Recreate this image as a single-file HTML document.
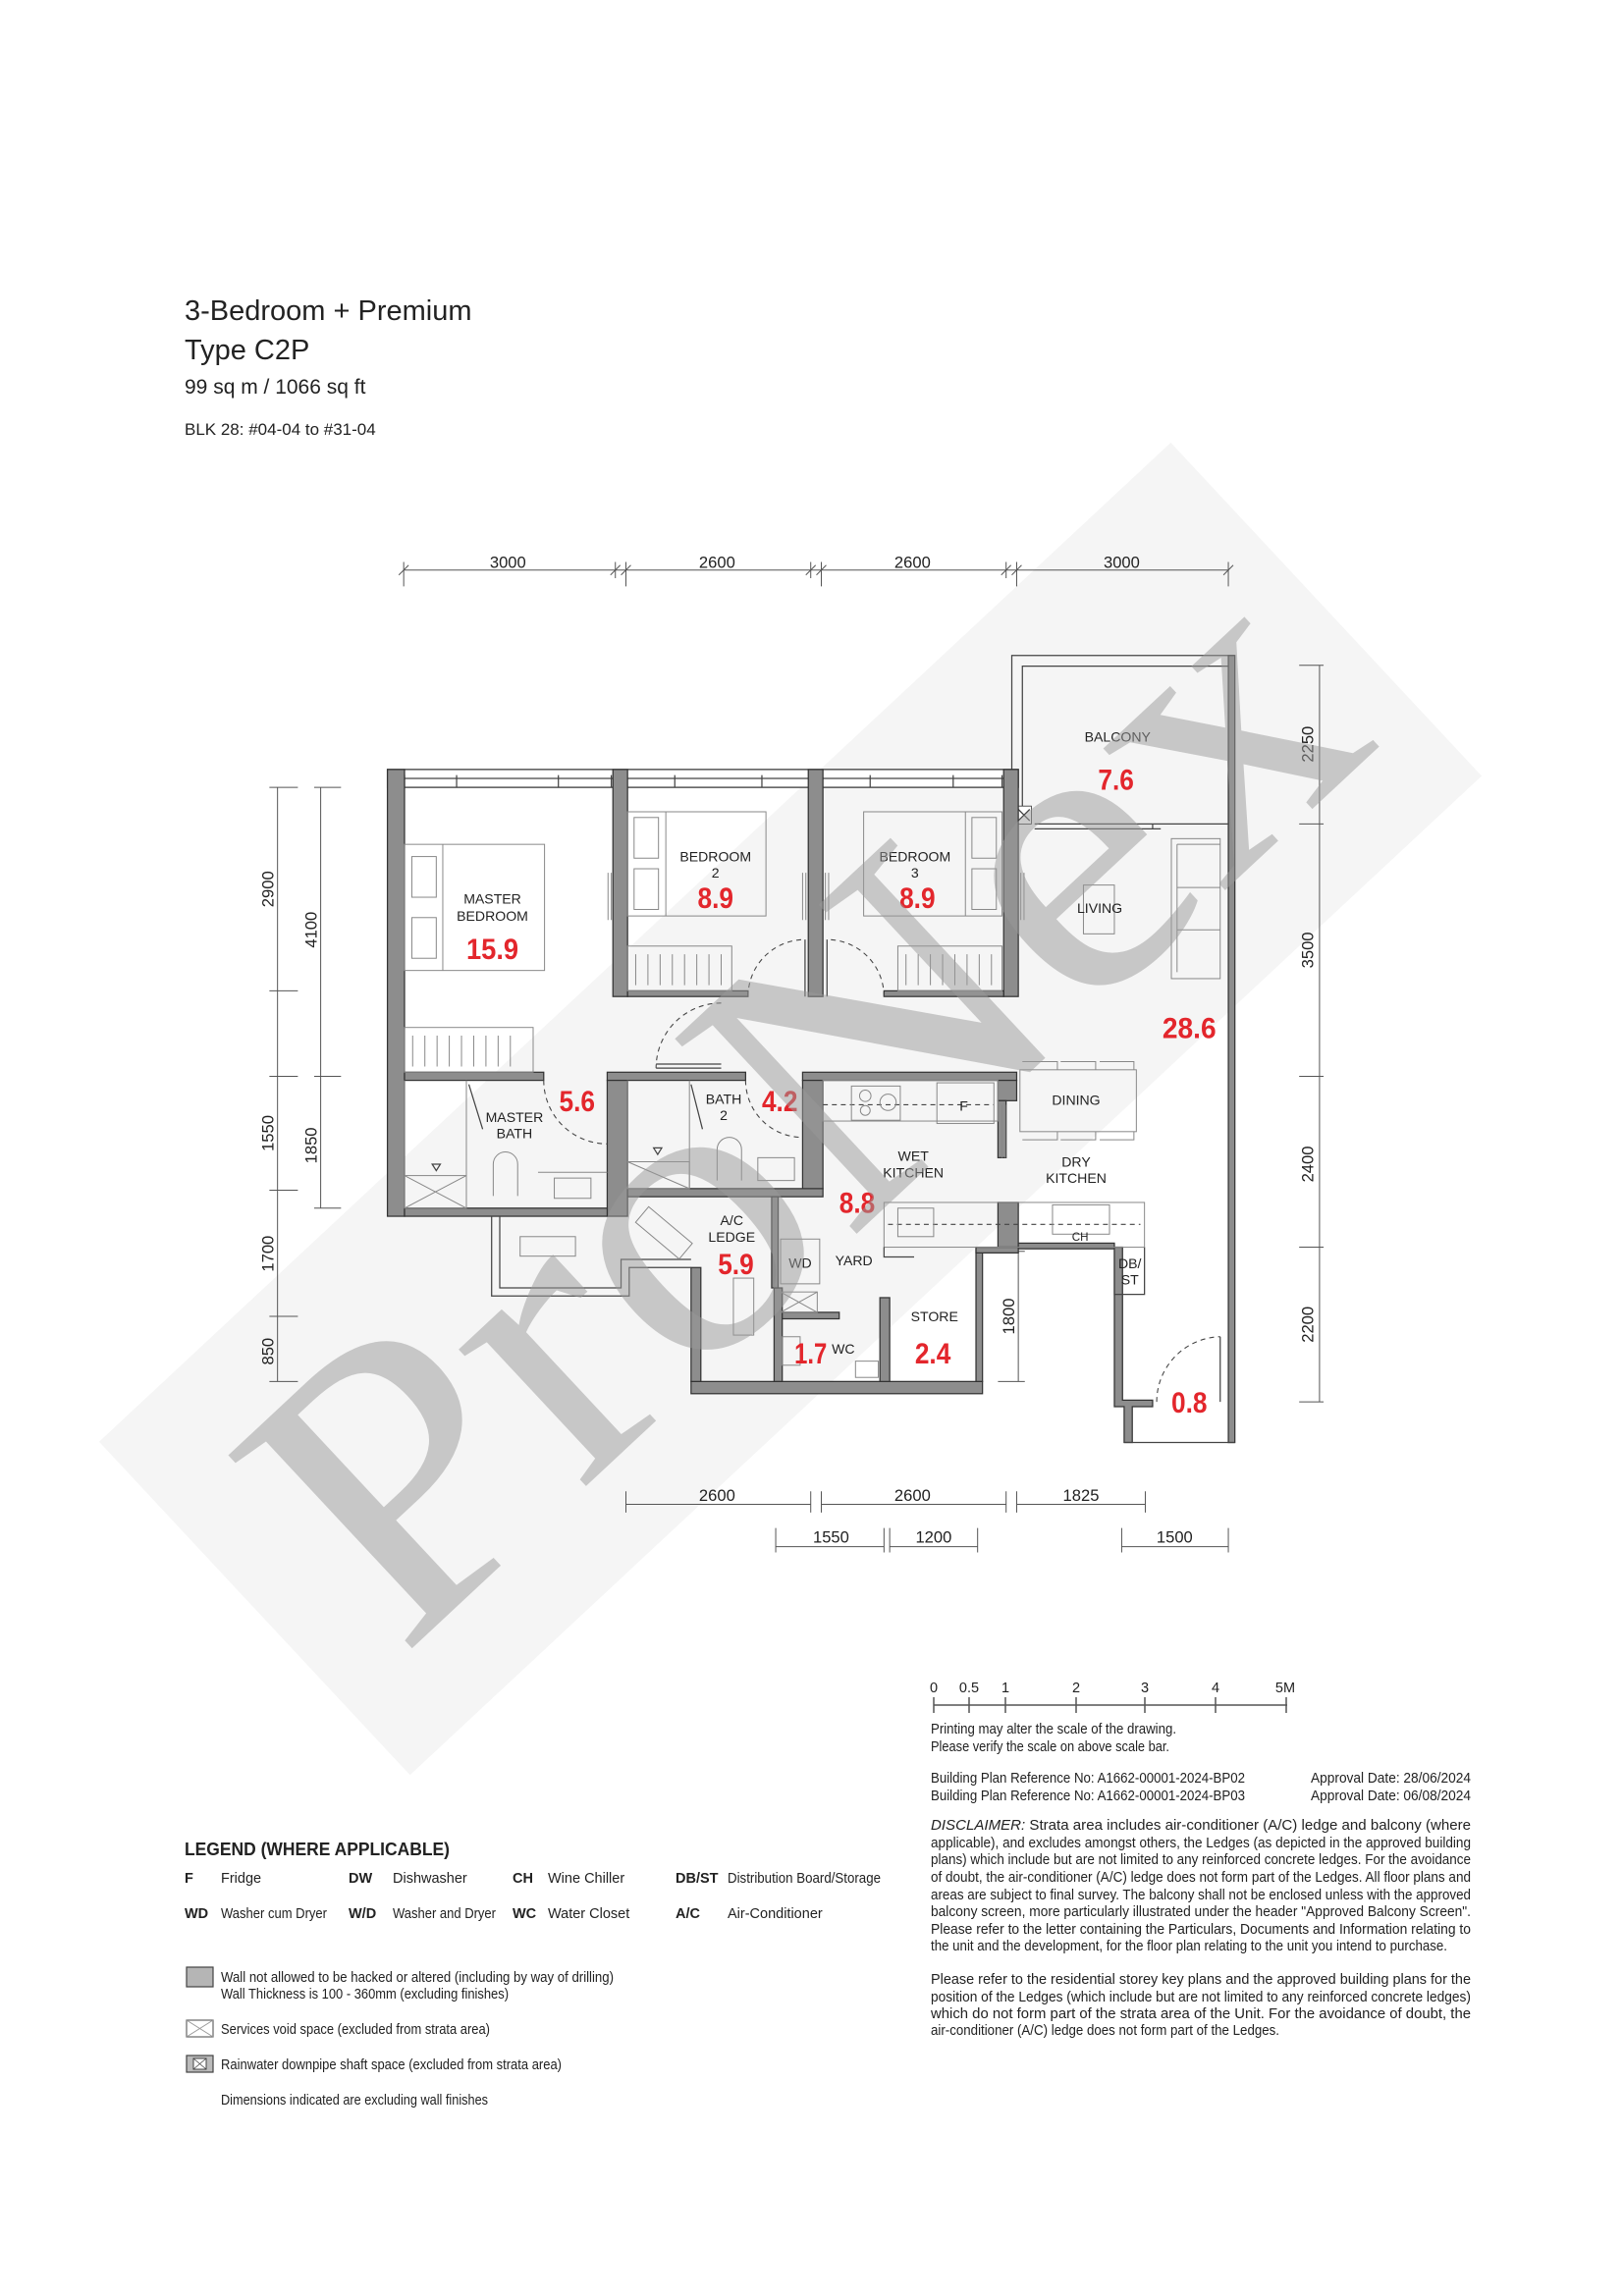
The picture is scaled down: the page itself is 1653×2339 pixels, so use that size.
<!DOCTYPE html>
<html><head><meta charset="utf-8"><style>
html,body{margin:0;padding:0;background:#fff}
svg{display:block}
text{font-family:"Liberation Sans",sans-serif;fill:#222}
.r{font-family:"Liberation Sans Narrow","Liberation Sans",sans-serif;font-weight:bold;fill:#e3262c;font-size:36px;text-anchor:middle}
.l{font-size:17px;text-anchor:middle;fill:#222}
.d{font-size:20px;text-anchor:middle;fill:#222}
.w{fill:#8d8d8d;stroke:#333;stroke-width:1.5}
.t{fill:none;stroke:#444;stroke-width:1.5}
.f{fill:none;stroke:#888;stroke-width:1.2}
.dash{fill:none;stroke:#444;stroke-width:1.3;stroke-dasharray:6 5}
.dl{fill:none;stroke:#555;stroke-width:1.2}
.s{font-size:14.5px;fill:#222}
</style></head><body>
<svg width="1653" height="2339" viewBox="0 0 1653 2339" xmlns="http://www.w3.org/2000/svg">
<rect width="1653" height="2339" fill="#fff"/>
<text x="188" y="326" style="font-size:29px">3-Bedroom + Premium</text>
<text x="188" y="366" style="font-size:29px">Type C2P</text>
<text x="188" y="401" style="font-size:21px">99 sq m / 1066 sq ft</text>
<text x="188" y="443" style="font-size:17px">BLK 28: #04-04 to #31-04</text>

<!-- watermark band -->
<g transform="translate(150,400) scale(0.8291)">
<rect x="-900" y="-280" width="1800" height="560" fill="#f5f5f5" transform="translate(790,880) rotate(-43)"/>
</g>

<g transform="translate(150,400) scale(0.8291)">
<!-- top dims -->
<path class="dl" d="M315 218H1328M315 208V238M575 208V228M588 208V238M815 208V228M828 208V238M1055 208V228M1068 208V238M1328 208V238"/>
<path class="dl" d="M309 224L321 212M569 224L581 212M582 224L594 212M809 224L821 212M822 224L834 212M1049 224L1061 212M1062 224L1074 212M1322 224L1334 212"/>
<text class="d" x="443" y="215">3000</text><text class="d" x="700" y="215">2600</text><text class="d" x="940" y="215">2600</text><text class="d" x="1197" y="215">3000</text>
<!-- left dims -->
<path class="dl" d="M160 485V1215M150 485H185M150 735H185M150 840H185M150 980H185M150 1135H185M150 1215H185M213 485V1002M205 485H238M205 840H238M205 1002H238M1440 335V1240M1415 335H1445M1415 530H1445M1415 840H1445M1415 1050H1445M1415 1240H1445M1070 1055V1215M1045 1055H1078M1045 1215H1078"/>
<g class="d" style="font-size:20px">
<text transform="translate(155,610) rotate(-90)">2900</text>
<text transform="translate(208,660) rotate(-90)">4100</text>
<text transform="translate(155,910) rotate(-90)">1550</text>
<text transform="translate(208,925) rotate(-90)">1850</text>
<text transform="translate(155,1058) rotate(-90)">1700</text>
<text transform="translate(155,1178) rotate(-90)">850</text>
<text transform="translate(1432,432) rotate(-90)">2250</text>
<text transform="translate(1432,685) rotate(-90)">3500</text>
<text transform="translate(1432,948) rotate(-90)">2400</text>
<text transform="translate(1432,1145) rotate(-90)">2200</text>
<text transform="translate(1065,1135) rotate(-90)">1800</text>
</g>
<!-- bottom dims -->
<path class="dl" d="M588 1366H815M828 1366H1055M1068 1366H1226M588 1350V1376M815 1350V1376M828 1350V1376M1055 1350V1376M1068 1350V1376M1226 1350V1376M772 1418H905M912 1418H1020M1197 1418H1328M772 1395V1425M905 1395V1425M912 1395V1425M1020 1395V1425M1197 1395V1425M1328 1395V1425"/>
<text class="d" x="700" y="1362">2600</text><text class="d" x="940" y="1362">2600</text><text class="d" x="1147" y="1362">1825</text>
<text class="d" x="840" y="1413">1550</text><text class="d" x="966" y="1413">1200</text><text class="d" x="1262" y="1413">1500</text>

<!-- balcony -->
<path class="t" d="M1062 520V323H1336M1075 520V336H1328"/>
<rect class="w" x="1328" y="323" width="8" height="967"/>
<path class="t" d="M1090 530H1328M1090 536H1245M1235 530V536"/>
<rect x="1068" y="508" width="18" height="22" fill="#fff" stroke="#333"/>
<path class="t" d="M1070 512L1084 526M1084 512L1070 526"/>
<!-- window band -->
<rect x="295" y="463" width="775" height="22" fill="#fff" stroke="#333" stroke-width="1.5"/>
<path class="t" d="M316 474H1052M316 470V485M380 470V485M505 470V485M570 470V485M648 470V485M755 470V485M888 470V485M990 470V485M1050 470V485"/>
<!-- walls -->
<rect class="w" x="295" y="463" width="21" height="549"/>
<rect class="w" x="572" y="463" width="18" height="279"/>
<rect class="w" x="812" y="463" width="18" height="279"/>
<rect class="w" x="1052" y="463" width="18" height="279"/>
<rect class="w" x="590" y="735" width="148" height="7"/>
<rect class="w" x="905" y="735" width="147" height="7"/>
<rect class="w" x="316" y="835" width="171" height="10"/>
<rect class="w" x="565" y="835" width="170" height="10"/>
<rect class="w" x="805" y="835" width="263" height="10"/>
<rect class="w" x="565" y="845" width="25" height="167"/>
<rect class="w" x="316" y="1002" width="249" height="10"/>
<rect class="w" x="590" y="978" width="240" height="10"/>
<rect class="w" x="805" y="845" width="25" height="133"/>
<rect class="w" x="1045" y="845" width="23" height="25"/>
<rect class="w" x="1045" y="870" width="10" height="70"/>
<rect class="w" x="1045" y="995" width="25" height="55"/>
<rect class="w" x="668" y="1215" width="358" height="15"/>
<rect class="w" x="668" y="1075" width="12" height="140"/>
<rect class="w" x="1018" y="1052" width="8" height="163"/>
<rect class="w" x="1018" y="1050" width="52" height="7"/>
<rect class="w" x="770" y="1100" width="10" height="115"/>
<rect class="w" x="900" y="1112" width="12" height="103"/>
<rect class="w" x="780" y="1130" width="70" height="8"/>
<rect class="w" x="767" y="988" width="8" height="112"/>
<rect class="w" x="1070" y="1045" width="118" height="7"/>
<path class="w" d="M1188 1050H1198V1238H1235V1246H1210V1290H1200V1246H1188Z"/>
<path class="t" d="M1200 1290H1336M1188 1050V1108H1225V1050"/>
<!-- ledge outline -->
<path class="t" d="M423 1012V1110H592V1075H668M433 1012V1100H582V1065H668"/>
<!-- kitchen counters -->
<rect class="f" x="905" y="995" width="320" height="55"/>
<path class="dash" d="M910 1022H1220"/>
<rect class="f" x="830" y="845" width="215" height="50"/>
<path class="dash" d="M830 875H1040"/>
<rect class="f" x="865" y="852" width="60" height="42"/>
<circle class="f" cx="882" cy="864" r="7"/><circle class="f" cx="910" cy="872" r="10"/><circle class="f" cx="882" cy="882" r="6"/>
<rect class="f" x="970" y="848" width="70" height="50"/>
<rect class="f" x="922" y="1002" width="44" height="35"/>
<rect class="f" x="1112" y="998" width="70" height="36"/>
<rect class="f" x="1072" y="832" width="143" height="76"/>
<path class="f" d="M1075 822H1118V832M1122 822H1165V832M1170 822H1212V832M1075 918H1118V908M1122 918H1165V908M1170 918H1212V908"/>
<!-- beds etc -->
<rect class="f" x="316" y="555" width="172" height="155"/>
<path class="f" d="M363 555V710"/><rect class="f" x="325" y="570" width="30" height="50"/><rect class="f" x="325" y="645" width="30" height="50"/>
<rect class="f" x="590" y="515" width="170" height="128"/>
<path class="f" d="M637 515V643"/><rect class="f" x="598" y="522" width="30" height="50"/><rect class="f" x="598" y="585" width="30" height="50"/>
<rect class="f" x="880" y="515" width="170" height="128"/>
<path class="f" d="M1005 515V643"/><rect class="f" x="1013" y="522" width="30" height="50"/><rect class="f" x="1013" y="585" width="30" height="50"/>
<rect class="f" x="590" y="680" width="128" height="55"/><path class="f" d="M600 690V728M615 690V728M630 690V728M645 690V728M660 690V728M675 690V728M690 690V728M705 690V728"/>
<rect class="f" x="922" y="680" width="128" height="55"/><path class="f" d="M932 690V728M947 690V728M962 690V728M977 690V728M992 690V728M1007 690V728M1022 690V728M1037 690V728"/>
<rect class="f" x="316" y="780" width="158" height="55"/><path class="f" d="M326 790V828M341 790V828M356 790V828M371 790V828M386 790V828M401 790V828M416 790V828M431 790V828M446 790V828"/>
<rect class="f" x="1258" y="548" width="60" height="172"/>
<path class="f" d="M1265 555H1318M1265 555V712M1265 608H1318M1265 660H1318"/>
<rect class="f" x="1150" y="605" width="38" height="60"/>
<path class="f" d="M566 590V648M570 590V648M805 590V648M809 590V648M833 590V648M837 590V648M1073 590V648M1077 590V648M1050 875V940M1054 875V940"/>
<!-- baths -->
<rect class="f" x="316" y="962" width="76" height="40"/><path class="f" d="M316 962L392 1002M392 962L316 1002"/>
<rect class="f" x="590" y="945" width="76" height="33"/><path class="f" d="M590 945L666 978M666 945L590 945"/>
<path class="f" d="M316 845V962M392 845V1002M590 845V945M666 845V978M425 987V948A15 15 0 0 1 455 948V987M480 958H565M500 965H545V990H500ZM700 968V930A15 15 0 0 1 730 930V968M750 940H795V968H750Z"/>
<path class="t" d="M395 850L412 905M668 850L682 905M350 948L355 956L360 948ZM622 928L627 936L632 928Z"/>
<path class="dash" d="M487 845A78 78 0 0 0 565 923M735 845A70 70 0 0 0 805 915M738 742A70 70 0 0 1 808 672M905 742A70 70 0 0 0 835 672M705 750A80 80 0 0 0 625 830M1240 1240A80 80 0 0 1 1318 1160"/>
<path class="t" d="M625 825H705M625 830H705M808 672V742M835 672V742M1318 1160V1240"/>
<!-- yard items -->
<rect class="f" x="778" y="1040" width="48" height="55"/>
<rect class="f" x="778" y="1105" width="45" height="25"/><path class="f" d="M778 1105L823 1130M823 1105L778 1130"/>
<rect class="f" x="780" y="1160" width="22" height="35"/><rect class="f" x="870" y="1190" width="28" height="20"/>
<rect class="f" x="458" y="1037" width="68" height="24"/>
<rect class="f" x="600" y="1020" width="70" height="25" transform="rotate(40 635 1032)"/>
<rect class="f" x="720" y="1088" width="25" height="70"/>
<path class="t" d="M905 1050V1062H942"/>

<!-- room labels -->
<text class="l" x="1192" y="429">BALCONY</text>
<text class="l" x="424" y="628">MASTER</text><text class="l" x="424" y="649">BEDROOM</text>
<text class="l" x="698" y="576">BEDROOM</text><text class="l" x="698" y="596">2</text>
<text class="l" x="943" y="576">BEDROOM</text><text class="l" x="943" y="596">3</text>
<text class="l" x="1170" y="639">LIVING</text>
<text class="l" x="1141" y="875">DINING</text>
<text class="l" x="1003" y="882">F</text>
<text class="l" x="451" y="896">MASTER</text><text class="l" x="451" y="916">BATH</text>
<text class="l" x="708" y="874">BATH</text><text class="l" x="708" y="894">2</text>
<text class="l" x="941" y="944">WET</text><text class="l" x="941" y="964">KITCHEN</text>
<text class="l" x="1141" y="951">DRY</text><text class="l" x="1141" y="971">KITCHEN</text>
<text class="l" x="718" y="1023">A/C</text><text class="l" x="718" y="1043">LEDGE</text>
<text class="l" x="802" y="1075">WD</text><text class="l" x="868" y="1072">YARD</text>
<text class="l" x="1146" y="1042" style="font-size:14px">CH</text>
<text class="l" x="1207" y="1076">DB/</text><text class="l" x="1207" y="1096">ST</text>
<text class="l" x="967" y="1141">STORE</text>
<text class="l" x="855" y="1181">WC</text>
<!-- red areas -->
<text class="r" x="1190" y="488" textLength="44" lengthAdjust="spacingAndGlyphs">7.6</text>
<text class="r" x="424" y="696" textLength="64" lengthAdjust="spacingAndGlyphs">15.9</text>
<text class="r" x="698" y="633" textLength="44" lengthAdjust="spacingAndGlyphs">8.9</text>
<text class="r" x="946" y="633" textLength="44" lengthAdjust="spacingAndGlyphs">8.9</text>
<text class="r" x="1280" y="793" textLength="66" lengthAdjust="spacingAndGlyphs">28.6</text>
<text class="r" x="528" y="883" textLength="44" lengthAdjust="spacingAndGlyphs">5.6</text>
<text class="r" x="777" y="883" textLength="44" lengthAdjust="spacingAndGlyphs">4.2</text>
<text class="r" x="872" y="1008" textLength="44" lengthAdjust="spacingAndGlyphs">8.8</text>
<text class="r" x="723" y="1083" textLength="44" lengthAdjust="spacingAndGlyphs">5.9</text>
<text class="r" x="965" y="1193" textLength="44" lengthAdjust="spacingAndGlyphs">2.4</text>
<text class="r" x="815" y="1193" textLength="40" lengthAdjust="spacingAndGlyphs">1.7</text>
<text class="r" x="1280" y="1253" textLength="44" lengthAdjust="spacingAndGlyphs">0.8</text>

<!-- watermark -->
<text x="0" y="0" text-anchor="middle" dominant-baseline="central" transform="translate(800,870) rotate(-43)" style="font-family:'Liberation Serif',serif;font-size:500px;fill:#9a9a9a;fill-opacity:0.5" textLength="1650" lengthAdjust="spacingAndGlyphs">ProNex</text>
</g>

<g transform="translate(0,-13)">
<!-- scale bar -->
<g class="s">
<text x="951" y="1737" text-anchor="middle">0</text><text x="987" y="1737" text-anchor="middle">0.5</text><text x="1024" y="1737" text-anchor="middle">1</text><text x="1096" y="1737" text-anchor="middle">2</text><text x="1166" y="1737" text-anchor="middle">3</text><text x="1238" y="1737" text-anchor="middle">4</text><text x="1309" y="1737" text-anchor="middle">5M</text>
</g>
<path d="M951 1750H1311M951 1742V1758M987 1742V1758M1024 1742V1758M1096 1742V1758M1166 1742V1758M1238 1742V1758M1310 1742V1758" stroke="#555" stroke-width="1.5" fill="none"/>
<g class="s">
<text x="948" y="1779" textLength="250" lengthAdjust="spacingAndGlyphs">Printing may alter the scale of the drawing.</text>
<text x="948" y="1797" textLength="243" lengthAdjust="spacingAndGlyphs">Please verify the scale on above scale bar.</text>
<text x="948" y="1829" textLength="320" lengthAdjust="spacingAndGlyphs">Building Plan Reference No: A1662-00001-2024-BP02</text>
<text x="948" y="1847" textLength="320" lengthAdjust="spacingAndGlyphs">Building Plan Reference No: A1662-00001-2024-BP03</text>
<text x="1335" y="1829" textLength="163" lengthAdjust="spacingAndGlyphs">Approval Date: 28/06/2024</text>
<text x="1335" y="1847" textLength="163" lengthAdjust="spacingAndGlyphs">Approval Date: 06/08/2024</text>
<text x="948" y="1877" textLength="550" lengthAdjust="spacingAndGlyphs"><tspan font-style="italic">DISCLAIMER:</tspan>  Strata area includes air-conditioner (A/C) ledge and balcony (where</text>
<text x="948" y="1895" textLength="550" lengthAdjust="spacingAndGlyphs">applicable), and excludes amongst others, the Ledges (as depicted in the approved building</text>
<text x="948" y="1912" textLength="550" lengthAdjust="spacingAndGlyphs">plans) which include but are not limited to any reinforced concrete ledges. For the avoidance</text>
<text x="948" y="1930" textLength="550" lengthAdjust="spacingAndGlyphs">of doubt, the air-conditioner (A/C) ledge does not form part of the Ledges. All floor plans and</text>
<text x="948" y="1948" textLength="550" lengthAdjust="spacingAndGlyphs">areas are subject to final survey. The balcony shall not be enclosed unless with the approved</text>
<text x="948" y="1965" textLength="550" lengthAdjust="spacingAndGlyphs">balcony screen, more particularly illustrated under the header "Approved Balcony Screen".</text>
<text x="948" y="1983" textLength="550" lengthAdjust="spacingAndGlyphs">Please refer to the letter containing the Particulars, Documents and Information relating to</text>
<text x="948" y="2000" textLength="526" lengthAdjust="spacingAndGlyphs">the unit and the development, for the floor plan relating to the unit you intend to purchase.</text>
<text x="948" y="2034" textLength="550" lengthAdjust="spacingAndGlyphs">Please refer to the residential storey key plans and the approved building plans for the</text>
<text x="948" y="2052" textLength="550" lengthAdjust="spacingAndGlyphs">position of the Ledges (which include but are not limited to any reinforced concrete ledges)</text>
<text x="948" y="2069" textLength="550" lengthAdjust="spacingAndGlyphs">which do not form part of the strata area of the Unit. For the avoidance of doubt, the</text>
<text x="948" y="2086" textLength="355" lengthAdjust="spacingAndGlyphs">air-conditioner (A/C) ledge does not form part of the Ledges.</text>
</g>

<!-- legend -->
<text x="188" y="1903" style="font-size:18px;font-weight:bold" textLength="270" lengthAdjust="spacingAndGlyphs">LEGEND (WHERE APPLICABLE)</text>
<g class="s">
<text x="188" y="1931" font-weight="bold">F</text><text x="225" y="1931">Fridge</text>
<text x="355" y="1931" font-weight="bold">DW</text><text x="400" y="1931">Dishwasher</text>
<text x="522" y="1931" font-weight="bold">CH</text><text x="558" y="1931">Wine Chiller</text>
<text x="688" y="1931" font-weight="bold">DB/ST</text><text x="741" y="1931" textLength="156" lengthAdjust="spacingAndGlyphs">Distribution Board/Storage</text>
<text x="188" y="1967" font-weight="bold">WD</text><text x="225" y="1967" textLength="108" lengthAdjust="spacingAndGlyphs">Washer cum Dryer</text>
<text x="355" y="1967" font-weight="bold">W/D</text><text x="400" y="1967" textLength="105" lengthAdjust="spacingAndGlyphs">Washer and Dryer</text>
<text x="522" y="1967" font-weight="bold">WC</text><text x="558" y="1967">Water Closet</text>
<text x="688" y="1967" font-weight="bold">A/C</text><text x="741" y="1967">Air-Conditioner</text>
<text x="225" y="2032" textLength="400" lengthAdjust="spacingAndGlyphs">Wall not allowed to be hacked or altered (including by way of drilling)</text>
<text x="225" y="2049" textLength="293" lengthAdjust="spacingAndGlyphs">Wall Thickness is 100 - 360mm (excluding finishes)</text>
<text x="225" y="2085" textLength="274" lengthAdjust="spacingAndGlyphs">Services void space (excluded from strata area)</text>
<text x="225" y="2121" textLength="347" lengthAdjust="spacingAndGlyphs">Rainwater downpipe shaft space (excluded from strata area)</text>
<text x="225" y="2157" textLength="272" lengthAdjust="spacingAndGlyphs">Dimensions indicated are excluding wall finishes</text>
</g>
<rect x="190" y="2017" width="27" height="20" fill="#b5b5b5" stroke="#444" stroke-width="1.2"/>
<rect x="190" y="2071" width="27" height="17" fill="#fff" stroke="#666" stroke-width="1.2"/>
<path d="M190 2071L217 2088M217 2071L190 2088" stroke="#999" stroke-width="1"/>
<rect x="190" y="2107" width="27" height="17" fill="#bbb" stroke="#444" stroke-width="1.2"/>
<rect x="197" y="2110" width="13" height="11" fill="#fff" stroke="#444" stroke-width="1"/>
<path d="M197 2110L210 2121M210 2110L197 2121" stroke="#444" stroke-width="0.8"/>
</g>
</svg>
</body></html>
